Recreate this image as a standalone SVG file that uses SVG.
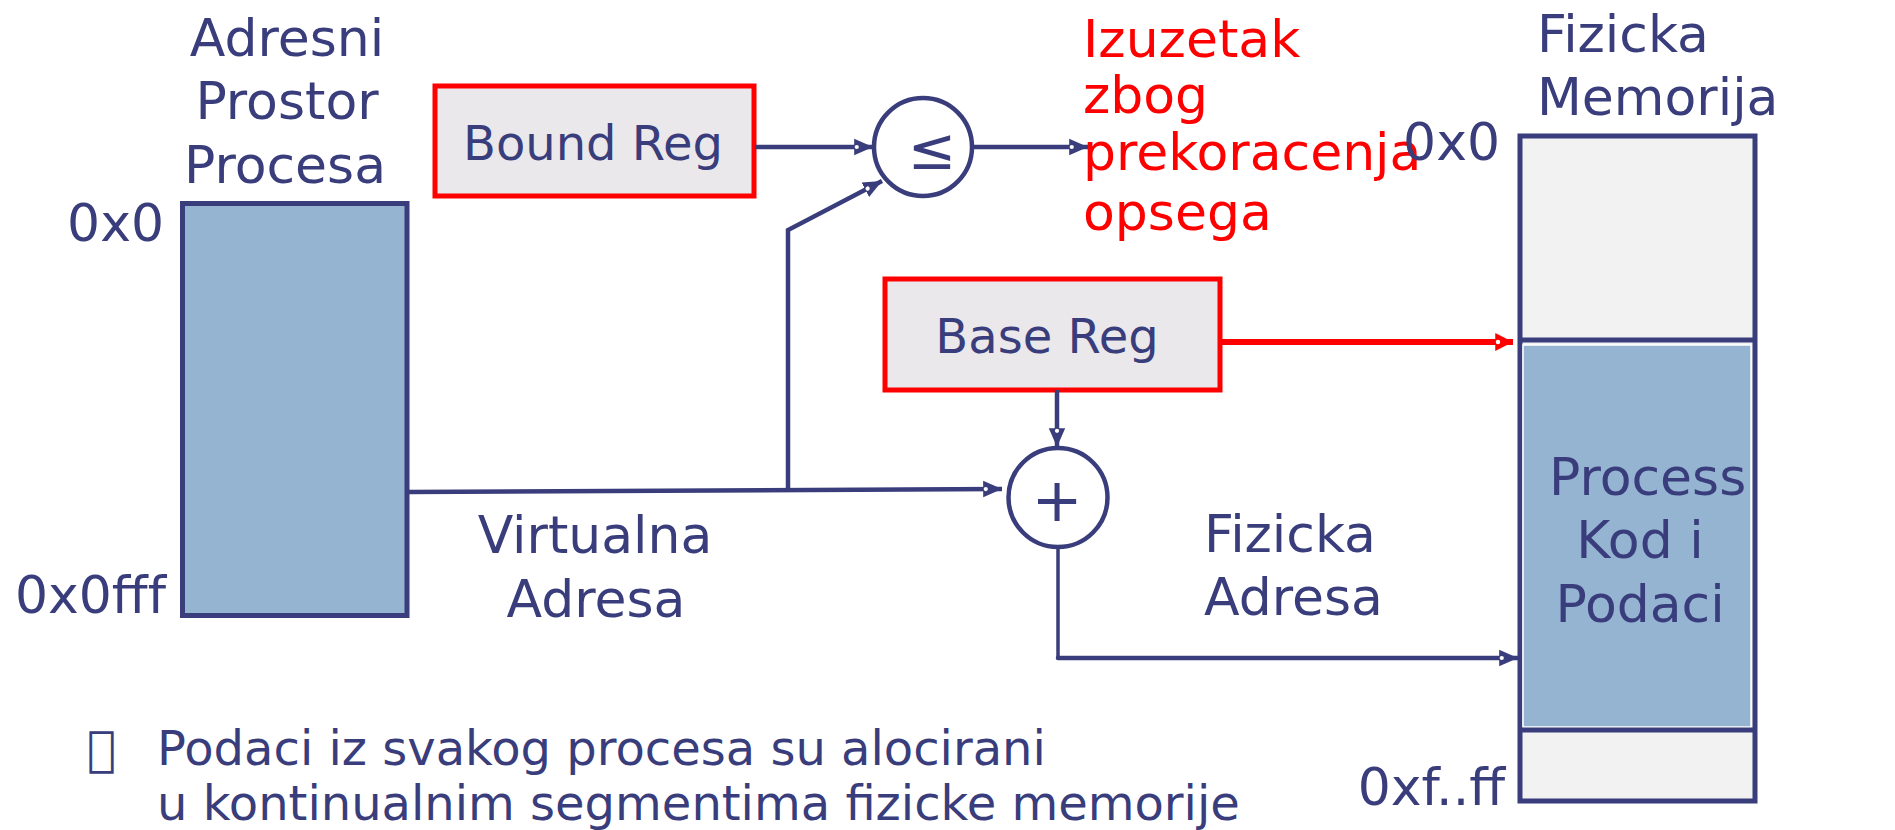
<svg xmlns="http://www.w3.org/2000/svg" width="1895" height="830" viewBox="0 0 1895 830">
<style>
text{font-family:"DejaVu Sans","Verdana",sans-serif;fill:#393D7B}
.l{font-size:52px}
.r{font-size:48px}
.red{fill:#FF0000}
.ln{fill:none;stroke:#393D7B;stroke-width:4.5}
.reg{fill:#EAE8EA;stroke:#FF0000;stroke-width:5}
</style>
<defs>
<marker id="an" markerUnits="userSpaceOnUse" markerWidth="20" markerHeight="20" viewBox="0 -8 17 16" refX="16" refY="0" orient="auto">
<path d="M0,-7 L16,0 L0,7 Z" fill="#393D7B"/><circle cx="2.2" cy="0" r="1.8" fill="#fff"/>
</marker>
<marker id="ar" markerUnits="userSpaceOnUse" markerWidth="20" markerHeight="20" viewBox="0 -9 17 18" refX="16" refY="0" orient="auto">
<path d="M0,-8 L16,0 L0,8 Z" fill="#FF0000"/><circle cx="2.5" cy="0" r="2" fill="#fff"/>
</marker>
</defs>
<rect width="1895" height="830" fill="#fff"/>

<g id="adresni-prostor">
<rect x="182.5" y="203.5" width="224.5" height="412" fill="#95B4D1" stroke="#393D7B" stroke-width="5"/>
<text class="l" x="287" y="56" text-anchor="middle">Adresni</text>
<text class="l" x="287" y="119" text-anchor="middle">Prostor</text>
<text class="l" x="285" y="183" text-anchor="middle">Procesa</text>
<text class="l" x="164" y="241" text-anchor="end">0x0</text>
<text class="l" x="166" y="613" text-anchor="end">0x0fff</text>
</g>

<g id="bound-reg">
<rect class="reg" x="435" y="86" width="319" height="110"/>
<text class="r" x="593" y="160" text-anchor="middle">Bound Reg</text>
</g>

<g id="compare">
<circle cx="923" cy="147" r="49" fill="#fff" stroke="#393D7B" stroke-width="4.5"/>
<text x="932" y="169" text-anchor="middle" style="font-size:58px">≤</text>
</g>

<g id="izuzetak">
<text class="l red" x="1083" y="57">Izuzetak</text>
<text class="l red" x="1083" y="113">zbog</text>
<text class="l red" x="1083" y="170">prekoracenja</text>
<text class="l red" x="1083" y="230">opsega</text>
</g>

<g id="base-reg">
<rect class="reg" x="885" y="279" width="335" height="111"/>
<text class="r" x="1047" y="353" text-anchor="middle">Base Reg</text>
</g>

<g id="adder">
<circle cx="1058" cy="497.5" r="49.5" fill="#fff" stroke="#393D7B" stroke-width="4.5"/>
<text x="1057" y="521" text-anchor="middle" style="font-size:61px">+</text>
</g>

<g id="fizicka-memorija">
<rect x="1520" y="136" width="235" height="665" fill="#F2F2F2" stroke="#393D7B" stroke-width="5"/>
<rect x="1523" y="345" width="228" height="382" fill="#95B4D1" stroke="#fff" stroke-width="1.5"/>
<line x1="1520" y1="340" x2="1755" y2="340" stroke="#393D7B" stroke-width="5"/>
<line x1="1520" y1="730" x2="1755" y2="730" stroke="#393D7B" stroke-width="5"/>
<text class="l" x="1537" y="52">Fizicka</text>
<text class="l" x="1537" y="115">Memorija</text>
<text class="l" x="1500" y="160" text-anchor="end">0x0</text>
<text class="l" x="1549" y="495">Process</text>
<text class="l" x="1640" y="558" text-anchor="middle">Kod i</text>
<text class="l" x="1640" y="622" text-anchor="middle">Podaci</text>
<text class="l" x="1505" y="805" text-anchor="end">0xf..ff</text>
</g>

<g id="labels">
<text class="l" x="595" y="553" text-anchor="middle">Virtualna</text>
<text class="l" x="596" y="617" text-anchor="middle">Adresa</text>
<text class="l" x="1204" y="552">Fizicka</text>
<text class="l" x="1204" y="615">Adresa</text>
</g>

<g id="note">
<text class="r" x="87" y="765">&#xF0A7;</text>
<text class="r" x="157" y="765">Podaci iz svakog procesa su alocirani</text>
<text class="r" x="157" y="820">u kontinualnim segmentima fizicke memorije</text>
</g>

<g id="connectors">
<path class="ln" d="M755,147 H873" marker-end="url(#an)"/>
<path class="ln" d="M973,147 H1088" marker-end="url(#an)"/>
<path class="ln" d="M409,492 L1002,489" marker-end="url(#an)"/>
<path class="ln" d="M788,490 V230 L882,181" marker-end="url(#an)"/>
<path class="ln" d="M1057,390 V447" marker-end="url(#an)"/>
<path class="ln" d="M1058,547 V658" style="stroke-width:3.5"/>
<path class="ln" d="M1058,658 H1518" stroke-linecap="round" marker-end="url(#an)"/>
<path d="M1220,342 H1513" fill="none" stroke="#FF0000" stroke-width="6" marker-end="url(#ar)"/>
</g>
</svg>
